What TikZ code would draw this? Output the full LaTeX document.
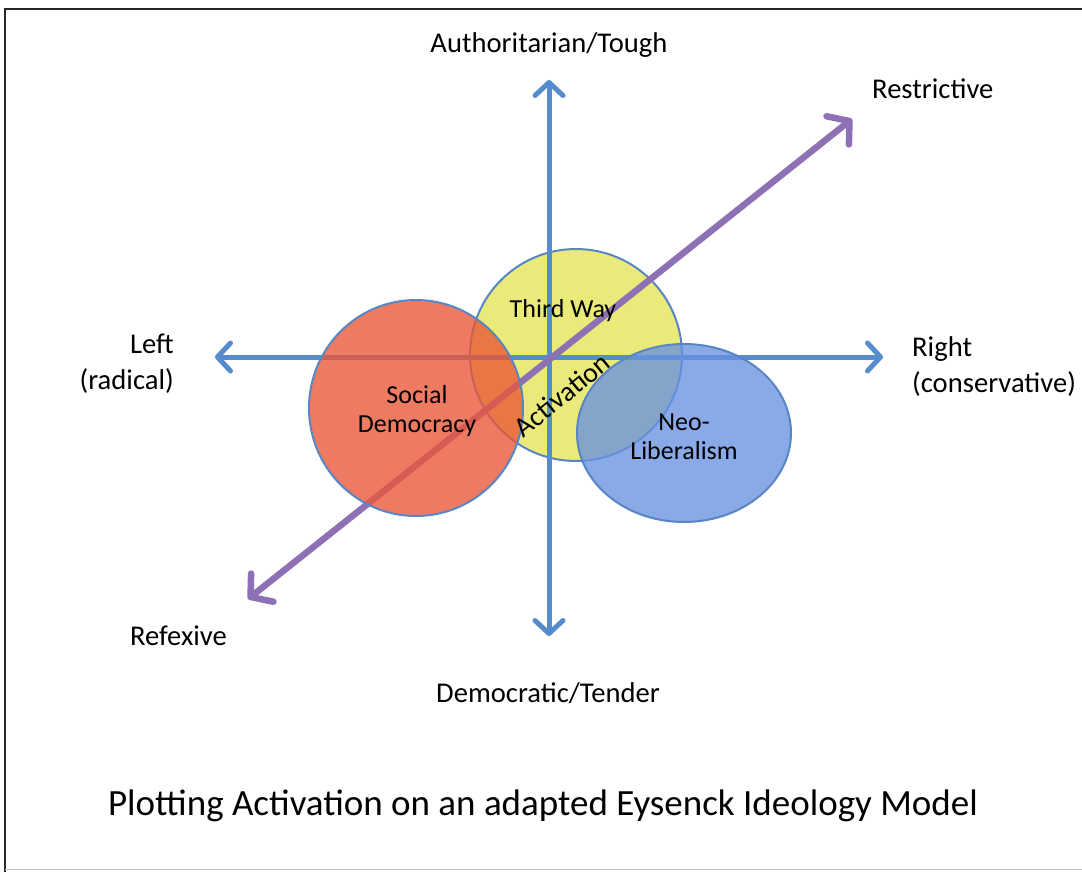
\documentclass[tikz,border=0pt]{standalone}
\usepackage{fontspec}
\setmainfont{Carlito}
\usetikzlibrary{arrows.meta}
\definecolor{axisblue}{RGB}{86,140,205}
\definecolor{outl}{RGB}{88,134,196}
\definecolor{purp}{RGB}{142,113,181}
\definecolor{yel}{RGB}{233,234,122}
\definecolor{redb}{RGB}{235,85,55}
\definecolor{blueb}{RGB}{105,145,225}
\begin{document}
\begin{tikzpicture}[x=1pt,y=-1pt,
  axis/.style={draw=axisblue,line width=5pt,line cap=round,
    {Straight Barb[length=13pt,width=28pt,line width=5pt,round]}-{Straight Barb[length=13pt,width=28pt,line width=5pt,round]}},
  diag/.style={draw=purp,line width=6.5pt,line cap=round,
    {Straight Barb[length=15pt,width=36pt,line width=6.5pt,round]}-{Straight Barb[length=15pt,width=36pt,line width=6.5pt,round]}},
  blob/.style={draw=outl,line width=2pt},
  outer/.style={font=\fontsize{28.6}{36}\selectfont,inner sep=0pt},
  inner/.style={font=\fontsize{26}{29}\selectfont,inner sep=0pt,align=center},
]
\useasboundingbox (0,0) rectangle (1082,872);
\fill[white] (0,0) rectangle (1082,872);
% frame
\draw[line width=2pt,black!85] (1090,9) -- (5,9) -- (5,880);
\draw[line width=1pt,black!25] (5,869) -- (1090,869);

% yellow circle (bottom layer)
\path[blob,fill=yel] (576,355) ellipse [x radius=106, y radius=106];

% axes
\coordinate (vt) at (549,80);
\coordinate (vb) at (549,636);
\coordinate (hl) at (215,357);
\coordinate (hr) at (883,357);
\coordinate (dl) at (248,599);
\coordinate (dr) at (852,119);
\draw[axis] (vb) -- (vt);
\draw[axis] (hl) -- (hr);
\draw[diag] (dl) -- (dr);

% red and blue translucent
\path[blob,fill=redb,fill opacity=0.78] (416,408) ellipse [x radius=107, y radius=108];
\path[blob,fill=blueb,fill opacity=0.78] (684,433) ellipse [x radius=107, y radius=89];

% inner labels
\node[inner] (tw) at (563,311) {Third Way};
\node[inner] (sd) at (417,411) {Social\\Democracy};
\node[inner] (nl) at (684,437) {Neo-\\Liberalism};
\node[inner,rotate=39,font=\fontsize{28}{30}\selectfont] (act) at (562,395) {Activation};

% outer labels
\node[outer] (auth) at (549,45) {Authoritarian/Tough};
\node[outer] (dem) at (548,693) {Democratic/Tender};
\node[outer,anchor=west] (restr) at (872,89) {Restrictive};
\node[outer,anchor=west] (refx) at (130,636) {Refexive};
\node[outer,anchor=east,align=right] (left) at (174,364) {Left\\(radical)};
\node[outer,anchor=west,align=left] (right) at (912,367) {Right\\(conservative)};
\node[inner sep=0pt,font=\fontsize{37}{44}\selectfont] (title) at (543,806) {Plotting Activation on an adapted Eysenck Ideology Model};
\end{tikzpicture}
\end{document}
